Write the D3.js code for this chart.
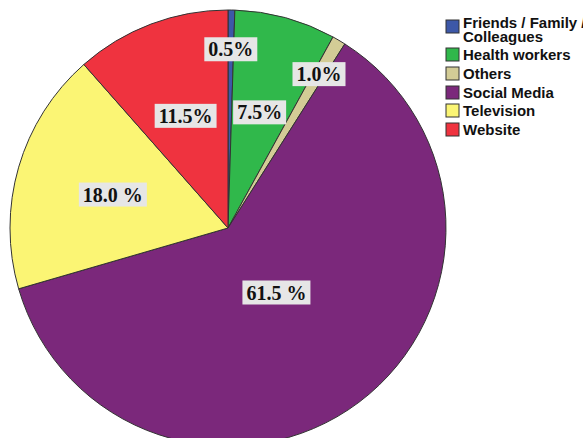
<!DOCTYPE html>
<html>
<head>
<meta charset="utf-8">
<script src="https://cdn.jsdelivr.net/npm/d3@7"></script>
<style>
  body { margin: 0; background: #fff; }
  svg { display: block; }
</style>
</head>
<body>
<svg id="chart" width="583" height="438"></svg>
<script>
// Data
const categories = ["Friends / Family / Colleagues", "Health workers", "Others", "Social Media", "Television", "Website"]
const legendLines = [["Friends / Family /", "Colleagues"], ["Health workers"], ["Others"], ["Social Media"], ["Television"], ["Website"]]
const values = [0.5, 7.5, 1.0, 61.5, 18.0, 11.5]
const valueLabels = ["0.5%", "7.5%", "1.0%", "61.5 %", "18.0 %", "11.5%"]
const colors = ["#3d58a8", "#30b84b", "#d3cc96", "#7b287b", "#fbf574", "#ef333f"]

const width = 583
const height = 438
const cx = 228
const cy = 228
const radius = 218

const svg = d3.select("#chart")

const data = categories.map((c, i) => ({ name: c, value: values[i], label: valueLabels[i], color: colors[i] }))

const pie = d3.pie().value(d => d.value).sort(null)
const arcs = pie(data)

const arc = d3.arc().innerRadius(0).outerRadius(radius)

const g = svg.append("g")
    .attr("transform", `translate(${cx},${cy})`)

g.selectAll("path.slice")
  .data(arcs)
  .enter()
  .append("path")
    .classed("slice", true)
    .attr("d", arc)
    .attr("fill", d => d.data.color)
    .attr("stroke", "#333")
    .attr("stroke-width", 1)

// label radius: thin slices near the rim, the big one closer to the center
const labelRadius = d => {
  if (d.data.value < 5) return radius * 0.82
  if (d.data.value > 50) return radius * 0.37
  return radius * 0.55
}

const labels = g.selectAll("g.label")
  .data(arcs)
  .enter()
  .append("g")
    .classed("label", true)
    .attr("transform", d => {
      const a = (d.startAngle + d.endAngle) / 2
      const r = labelRadius(d)
      return `translate(${r * Math.sin(a)},${-r * Math.cos(a)})`
    })

labels.append("rect")
    .attr("fill", "#e6e6e6")

const txt = labels.append("text")
    .attr("text-anchor", "middle")
    .attr("dy", "0.35em")
    .attr("font-family", "'Liberation Serif', 'Times New Roman', serif")
    .attr("font-weight", "bold")
    .attr("font-size", 20)
    .attr("fill", "#111")
    .text(d => d.data.label)

txt.each(function() {
  const b = this.getBBox()
  d3.select(this.parentNode).select("rect")
    .attr("x", b.x - 4)
    .attr("y", -12)
    .attr("width", b.width + 8)
    .attr("height", 24)
})

// Legend
const legend = svg.append("g")
    .attr("transform", "translate(446,0)")

const rowY = [20, 48, 67, 86, 104, 123]

const item = legend.selectAll("g.item")
  .data(data)
  .enter()
  .append("g")
    .classed("item", true)
    .attr("transform", (d, i) => `translate(0,${rowY[i]})`)

item.append("rect")
    .attr("width", 13)
    .attr("height", 13)
    .attr("fill", d => d.color)
    .attr("stroke", "#333")
    .attr("stroke-width", 1)

// first entry wraps onto two lines, like the original
item.append("text")
    .attr("x", 17)
    .attr("font-family", "'Liberation Sans', Arial, sans-serif")
    .attr("font-weight", "bold")
    .attr("font-size", 15)
    .attr("fill", "#111")
    .each(function(d, i) {
      const t = d3.select(this)
      legendLines[i].forEach((line, j) => {
        t.append("tspan")
          .attr("x", 17)
          .attr("y", (i === 0 ? 8 : 12) + j * 14)
          .text(line)
      })
    })
</script>
</body>
</html>
